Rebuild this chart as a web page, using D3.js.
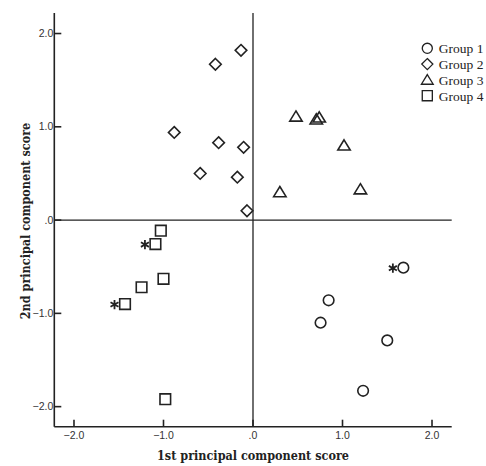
<!DOCTYPE html>
<html>
<head>
<meta charset="utf-8">
<script src="https://cdn.jsdelivr.net/npm/d3@7"></script>
<style>
  body { margin: 0; background: #fff; }
  .tick-label { font-family: "Liberation Sans", Arial, sans-serif; font-size: 10.5px; fill: #333; }
  .axis-title { font-family: "DejaVu Serif Condensed", "DejaVu Serif", serif; font-stretch: condensed; font-size: 12.5px; font-weight: bold; fill: #222; }
  .legend-text { font-family: "Liberation Serif", "Times New Roman", serif; font-size: 13.5px; fill: #222; }
</style>
</head>
<body>
<div id="chart"></div>
<script>
// Groups and their scores (PC1, PC2)
const groups = ["Group 1", "Group 2", "Group 3", "Group 4"];
const shapes = ["circle", "diamond", "triangle", "square"];

const g1x = [1.68, 0.845, 0.755, 1.50, 1.23];
const g1y = [-0.51, -0.86, -1.10, -1.29, -1.83];
const g1flag = [true, false, false, false, false];

const g2x = [-0.134, -0.42, -0.88, -0.384, -0.105, -0.59, -0.175, -0.067];
const g2y = [1.82, 1.67, 0.94, 0.83, 0.78, 0.50, 0.46, 0.10];
const g2flag = [false, false, false, false, false, false, false, false];

const g3x = [0.48, 0.707, 0.74, 1.017, 0.30, 1.20];
const g3y = [1.11, 1.08, 1.10, 0.80, 0.30, 0.33];
const g3flag = [false, false, false, false, false, false];

const g4x = [-1.03, -1.09, -1.0, -1.245, -1.43, -0.98];
const g4y = [-0.114, -0.257, -0.63, -0.72, -0.90, -1.92];
const g4flag = [false, true, false, false, true, false];

const xTicks = [-2, -1, 0, 1, 2];
const yTicks = [-2, -1, 0, 1, 2];
const tickFmt = d => d === 0 ? ".0" : d3.format(".1f")(d);

const W = 486, H = 466;
const svg = d3.select("#chart").append("svg")
  .attr("width", W).attr("height", H);

// Scales
const x = d3.scaleLinear().domain([-2.22, 2.22]).range([54.3, 451.7]);
const y = d3.scaleLinear().domain([-2.215, 2.22]).range([426.7, 13]);

const ink = "#222";

// Axes lines (left + bottom only)
svg.append("line")
  .attr("x1", x(-2.22)).attr("x2", x(-2.22))
  .attr("y1", y(2.22)).attr("y2", y(-2.215))
  .attr("stroke", ink).attr("stroke-width", 1.6);
svg.append("line")
  .attr("x1", x(-2.22)).attr("x2", x(2.22))
  .attr("y1", y(-2.215)).attr("y2", y(-2.215))
  .attr("stroke", ink).attr("stroke-width", 1.6);

// Reference lines at 0
svg.append("line")
  .attr("x1", x(0)).attr("x2", x(0))
  .attr("y1", y(2.22)).attr("y2", y(-2.215))
  .attr("stroke", ink).attr("stroke-width", 1.3);
svg.append("line")
  .attr("x1", x(-2.22)).attr("x2", x(2.22))
  .attr("y1", y(0)).attr("y2", y(0))
  .attr("stroke", ink).attr("stroke-width", 1.3);

// Y ticks
yTicks.forEach(t => {
  svg.append("line")
    .attr("x1", x(-2.22)).attr("x2", x(-2.22) + 7)
    .attr("y1", y(t)).attr("y2", y(t))
    .attr("stroke", ink).attr("stroke-width", 1.6);
  svg.append("text")
    .attr("class", "tick-label")
    .attr("x", x(-2.22) - 1)
    .attr("y", y(t) + 3.5)
    .attr("text-anchor", "end")
    .text(tickFmt(t));
});

// X ticks
xTicks.forEach(t => {
  svg.append("line")
    .attr("x1", x(t)).attr("x2", x(t))
    .attr("y1", y(-2.215)).attr("y2", y(-2.215) - 7)
    .attr("stroke", ink).attr("stroke-width", 1.6);
  svg.append("text")
    .attr("class", "tick-label")
    .attr("x", x(t))
    .attr("y", y(-2.215) + 12)
    .attr("text-anchor", "middle")
    .text(tickFmt(t));
});

// Axis titles
svg.append("text")
  .attr("class", "axis-title")
  .attr("x", 253)
  .attr("y", 460)
  .attr("text-anchor", "middle")
  .text("1st principal component score");

svg.append("text")
  .attr("class", "axis-title")
  .attr("transform", "translate(30,221) rotate(-90)")
  .attr("text-anchor", "middle")
  .text("2nd principal component score");

// Marker shapes
function shapePath(s) {
  if (s === "circle") return d3.symbol(d3.symbolCircle, Math.PI * 5.3 * 5.3)();
  if (s === "square") return "M-5.3,-5.3H5.3V5.3H-5.3Z";
  if (s === "diamond") return "M0,-5.8L5.8,0L0,5.8L-5.8,0Z";
  return "M0,-5.6L6.2,4.6H-6.2Z";
}

// six-armed asterisk drawn as three strokes
const star = "M0,-4.6V4.6M-4,-2.3L4,2.3M-4,2.3L4,-2.3";

const series = [
  { xs: g1x, ys: g1y, flags: g1flag },
  { xs: g2x, ys: g2y, flags: g2flag },
  { xs: g3x, ys: g3y, flags: g3flag },
  { xs: g4x, ys: g4y, flags: g4flag }
];

series.forEach((s, i) => {
  const pts = s.xs.map((v, j) => ({ x: v, y: s.ys[j], flag: s.flags[j] }));

  svg.append("g").selectAll("path")
    .data(pts)
    .enter()
    .append("path")
    .attr("d", shapePath(shapes[i]))
    .attr("transform", d => `translate(${x(d.x)},${y(d.y)})`)
    .attr("fill", "none")
    .attr("stroke", ink)
    .attr("stroke-width", 1.6);

  // asterisks next to flagged points
  svg.append("g").selectAll("path")
    .data(pts.filter(d => d.flag))
    .enter()
    .append("path")
    .attr("d", star)
    .attr("transform", d => `translate(${x(d.x) - 10.5},${y(d.y) + 0.5})`)
    .attr("fill", "none")
    .attr("stroke", ink)
    .attr("stroke-width", 1.8);
});

// Legend
const legend = svg.append("g").attr("transform", "translate(427.3,48.3)");
groups.forEach((name, i) => {
  const row = legend.append("g").attr("transform", `translate(0,${i * 15.8})`);
  row.append("path")
    .attr("d", shapePath(shapes[i]))
    .attr("transform", "scale(0.95)")
    .attr("fill", "none")
    .attr("stroke", ink)
    .attr("stroke-width", 1.4);
  row.append("text")
    .attr("class", "legend-text")
    .attr("x", 11.5)
    .attr("y", 4.8)
    .text(name);
});
</script>
</body>
</html>
